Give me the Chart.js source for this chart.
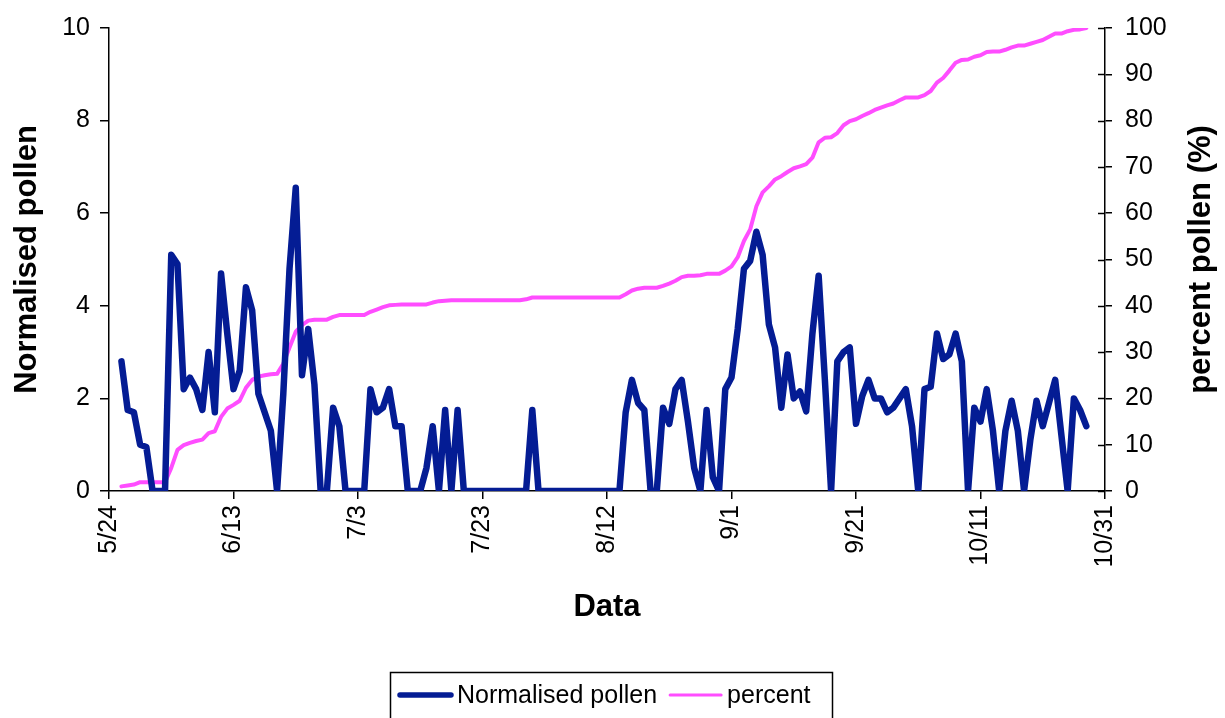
<!DOCTYPE html>
<html>
<head>
<meta charset="utf-8">
<script src="https://cdn.jsdelivr.net/npm/chart.js@4.4.1/dist/chart.umd.min.js"></script>
<style>
  html, body { margin: 0; padding: 0; background: #fff; }
  #chart { display: block; }
</style>
</head>
<body>
<canvas id="chart" width="1225" height="718"></canvas>
<script>
// days counted from 5/24 ; first reading is on day 2 (5/26)
const firstDay = 2;
const tickLabels = ['5/24', '6/13', '7/3', '7/23', '8/12', '9/1', '9/21', '10/11', '10/31'];

const pollen = [
  2.8, 1.75, 1.7, 1.0, 0.95, 0, 0, 0, 5.1, 4.9,
  2.2, 2.45, 2.2, 1.75, 3.0, 1.7, 4.7, 3.4, 2.2, 2.6,
  4.4, 3.9, 2.1, 1.7, 1.3, 0, 2.1, 4.8, 6.55, 2.5,
  3.5, 2.3, 0, 0, 1.8, 1.4, 0, 0, 0, 0,
  2.2, 1.7, 1.8, 2.2, 1.4, 1.4, 0, 0, 0, 0.5,
  1.4, 0, 1.75, 0, 1.75, 0, 0, 0, 0, 0,
  0, 0, 0, 0, 0, 0, 1.75, 0, 0, 0,
  0, 0, 0, 0, 0, 0, 0, 0, 0, 0,
  0, 1.7, 2.4, 1.9, 1.75, 0, 0, 1.8, 1.45, 2.2,
  2.4, 1.5, 0.5, 0, 1.75, 0.3, 0, 2.2, 2.45, 3.5,
  4.8, 4.97, 5.6, 5.1, 3.6, 3.1, 1.8, 2.95, 2.0, 2.15,
  1.72, 3.4, 4.65, 2.4, 0, 2.8, 3.0, 3.1, 1.45, 2.05,
  2.4, 2.0, 2.0, 1.7, 1.8, 2.0, 2.2, 1.4, 0, 2.2,
  2.25, 3.4, 2.85, 2.95, 3.4, 2.8, 0, 1.8, 1.5, 2.2,
  1.3, 0, 1.3, 1.95, 1.3, 0, 1.1, 1.95, 1.4, 1.9,
  2.4, 1.2, 0, 2.0, 1.75, 1.4
];

const percent = [
  1.0, 1.2, 1.4, 1.9, 1.9, 1.9, 1.9, 1.9, 5.0, 8.9,
  9.9, 10.4, 10.8, 11.1, 12.5, 12.9, 16.0, 17.8, 18.6, 19.5,
  22.3, 24.0, 24.7, 25.0, 25.2, 25.3, 27.5, 31.0, 34.4, 35.8,
  36.8, 37.0, 37.0, 37.0, 37.6, 38.0, 38.0, 38.0, 38.0, 38.0,
  38.7, 39.2, 39.7, 40.1, 40.2, 40.3, 40.3, 40.3, 40.3, 40.3,
  40.7, 41.0, 41.1, 41.2, 41.2, 41.2, 41.2, 41.2, 41.2, 41.2,
  41.2, 41.2, 41.2, 41.2, 41.2, 41.4, 41.8, 41.8, 41.8, 41.8,
  41.8, 41.8, 41.8, 41.8, 41.8, 41.8, 41.8, 41.8, 41.8, 41.8,
  41.8, 42.5, 43.3, 43.7, 43.9, 43.9, 43.9, 44.3, 44.8, 45.4,
  46.2, 46.5, 46.5, 46.6, 46.9, 46.9, 46.9, 47.6, 48.5, 50.5,
  54.0, 56.5, 61.5, 64.5, 65.8, 67.3, 68.0, 68.9, 69.7, 70.1,
  70.6, 72.0, 75.3, 76.3, 76.4, 77.3, 79.0, 79.9, 80.3, 81.0,
  81.6, 82.3, 82.8, 83.3, 83.7, 84.4, 85.0, 85.0, 85.0, 85.5,
  86.4, 88.2, 89.2, 90.8, 92.5, 93.1, 93.2, 93.8, 94.1, 94.8,
  94.9, 94.9, 95.3, 95.8, 96.2, 96.2, 96.6, 97.0, 97.4, 98.1,
  98.8, 98.8, 99.3, 99.6, 99.7, 100
];

const FONT = '"Liberation Sans", Arial, sans-serif';
const BLUE = '#041c94';
const PINK = '#ff4dff';

const toPoints = arr => arr.map((v, i) => ({ x: firstDay + i, y: v }));

// axis titles + the boxed legend, drawn the old excel way
const decorations = {
  id: 'decorations',
  afterDraw(chart) {
    const ctx = chart.ctx;
    const area = chart.chartArea;
    const midY = (area.top + area.bottom) / 2;
    ctx.save();
    ctx.fillStyle = '#000';
    ctx.font = 'bold 31px ' + FONT;
    ctx.textAlign = 'center';
    ctx.textBaseline = 'middle';

    ctx.save();
    ctx.translate(27, midY);
    ctx.rotate(-Math.PI / 2);
    ctx.fillText('Normalised pollen', 0, 0);
    ctx.restore();

    ctx.save();
    ctx.translate(1201, midY);
    ctx.rotate(-Math.PI / 2);
    ctx.fillText('percent pollen (%)', 0, 0);
    ctx.restore();

    ctx.fillText('Data', (area.left + area.right) / 2, 607);

    // inner half of the right axis tick marks
    const y1 = chart.scales.y1;
    ctx.strokeStyle = '#000';
    ctx.lineWidth = 1.5;
    y1.ticks.forEach(t => {
      const py = Math.round(y1.getPixelForValue(t.value)) + 0.5;
      ctx.beginPath();
      ctx.moveTo(y1.left - 7, py);
      ctx.lineTo(y1.left, py);
      ctx.stroke();
    });

    // legend
    const ly = 695;
    ctx.strokeStyle = '#000';
    ctx.lineWidth = 1.5;
    ctx.strokeRect(390.5, 672.5, 442, 80);
    ctx.font = '25px ' + FONT;
    ctx.textAlign = 'left';
    let x = 400;
    chart.data.datasets.forEach(ds => {
      ctx.strokeStyle = ds.borderColor;
      ctx.lineWidth = ds.borderWidth - 1;
      ctx.lineCap = 'round';
      ctx.beginPath();
      ctx.moveTo(x, ly);
      ctx.lineTo(x + 51, ly);
      ctx.stroke();
      x += 57;
      ctx.fillStyle = '#000';
      ctx.fillText(ds.label, x, ly + 1);
      x += ctx.measureText(ds.label).width + 13;
    });
    ctx.restore();
  }
};

new Chart(document.getElementById('chart'), {
  type: 'line',
  data: {
    datasets: [
      {
        label: 'Normalised pollen',
        data: toPoints(pollen),
        yAxisID: 'y',
        borderColor: BLUE,
        borderWidth: 6.5,
        borderJoinStyle: 'round',
        borderCapStyle: 'round',
        pointRadius: 0,
        tension: 0,
        order: 1
      },
      {
        label: 'percent',
        data: toPoints(percent),
        yAxisID: 'y1',
        borderColor: PINK,
        borderWidth: 4,
        borderJoinStyle: 'round',
        borderCapStyle: 'round',
        pointRadius: 0,
        tension: 0,
        order: 2
      }
    ]
  },
  options: {
    responsive: false,
    animation: false,
    devicePixelRatio: 1,
    layout: { padding: { top: 25, left: 0, right: 0, bottom: 0 } },
    plugins: {
      legend: { display: false },
      tooltip: { enabled: false }
    },
    scales: {
      x: {
        type: 'linear',
        min: 0,
        max: 160,
        afterFit: s => { s.height = 227; },
        border: { color: '#000', width: 1.5 },
        grid: { drawOnChartArea: false, color: '#000', lineWidth: 1.5, tickLength: 8 },
        ticks: {
          stepSize: 20,
          autoSkip: false,
          maxRotation: 90,
          minRotation: 90,
          padding: 6,
          color: '#000',
          font: { family: FONT, size: 25 },
          callback: v => tickLabels[v / 20]
        }
      },
      y: {
        position: 'left',
        min: 0,
        max: 10,
        afterFit: s => { s.width = 109; },
        border: { color: '#000', width: 1.5 },
        grid: { drawOnChartArea: false, color: '#000', lineWidth: 1.5, tickLength: 9 },
        ticks: {
          stepSize: 2,
          padding: 10,
          color: '#000',
          font: { family: FONT, size: 25 }
        }
      },
      y1: {
        position: 'right',
        min: 0,
        max: 100,
        afterFit: s => { s.width = 120; },
        border: { color: '#000', width: 1.5 },
        grid: { drawOnChartArea: false, color: '#000', lineWidth: 1.5, tickLength: 7 },
        ticks: {
          stepSize: 10,
          padding: 13,
          color: '#000',
          font: { family: FONT, size: 25 }
        }
      }
    }
  },
  plugins: [decorations]
});
</script>
</body>
</html>
